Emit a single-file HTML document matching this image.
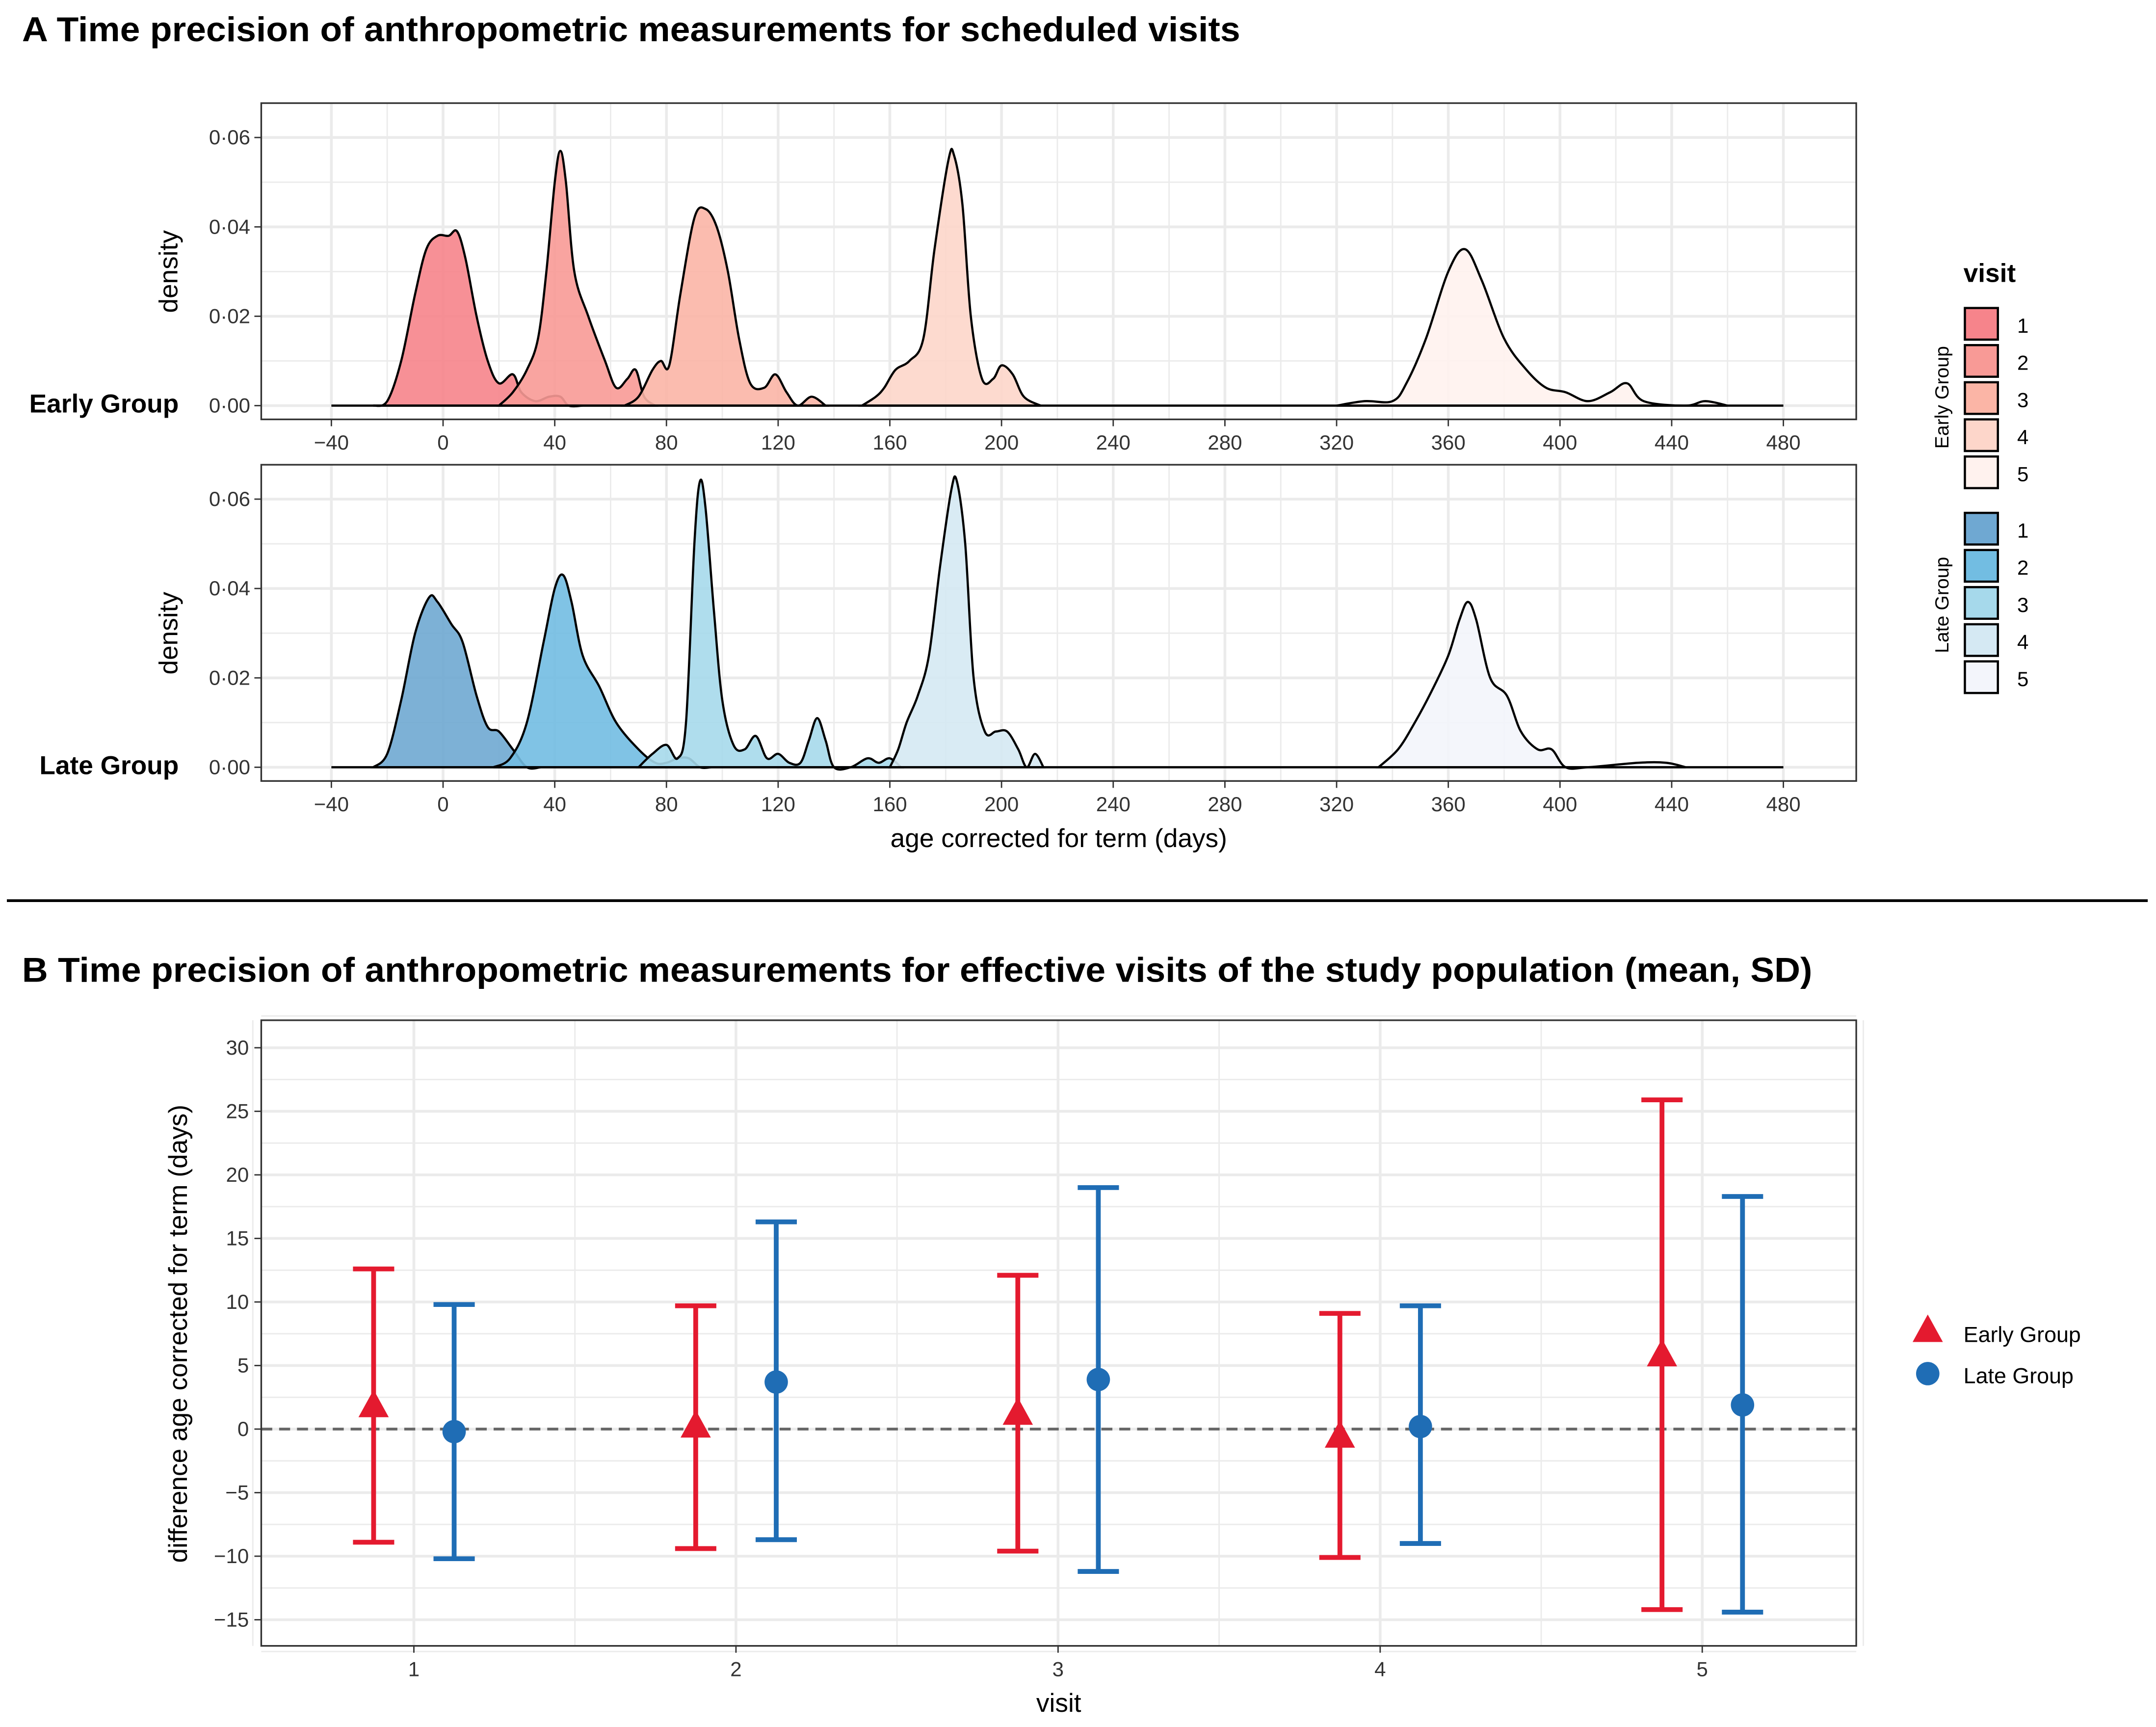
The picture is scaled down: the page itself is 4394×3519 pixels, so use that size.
<!DOCTYPE html>
<html><head><meta charset="utf-8"><style>
html,body{margin:0;padding:0;background:#fff}
svg{display:block}
text{font-family:"Liberation Sans",Arial,sans-serif}
</style></head><body>
<svg id="fig" width="4394" height="3519" viewBox="0 0 1568 1256" preserveAspectRatio="none" xmlns="http://www.w3.org/2000/svg">
<rect width="1568" height="1256" fill="#fff"/>
<g id="root"></g>
</svg>
<script>
// ---------- Panel A data ----------
const visitLabels = ["1","2","3","4","5"];
const xTicksA = [-40,0,40,80,120,160,200,240,280,320,360,400,440,480];
const yTicksA = [0,0.02,0.04,0.06];
const yTickLabelsA = ["0·00","0·02","0·04","0·06"];
const earlyV1 = [[-25,0],[-20,0.001],[-15,0.01],[-10,0.025],[-6,0.035],[-2,0.038],[2,0.038],[5,0.039],[8,0.033],[12,0.02],[16,0.01],[20,0.005],[25,0.007],[28,0.003],[33,0.001],[38,0.002],[42,0.002],[45,0],[50,0]];
const earlyV2 = [[20,0],[25,0.003],[30,0.008],[34,0.015],[37,0.03],[40,0.05],[42,0.057],[44,0.05],[47,0.03],[52,0.02],[58,0.01],[62,0.004],[66,0.006],[69,0.008],[72,0.002],[76,0]];
const earlyV3 = [[65,0],[70,0.002],[75,0.008],[78,0.01],[81,0.009],[85,0.025],[90,0.042],[94,0.044],[98,0.04],[102,0.03],[106,0.015],[110,0.005],[115,0.004],[119,0.007],[123,0.003],[127,0],[132,0.002],[137,0]];
const earlyV4 = [[150,0],[155,0.002],[158,0.004],[162,0.008],[167,0.01],[172,0.015],[176,0.035],[181,0.055],[183,0.056],[186,0.045],[189,0.02],[193,0.006],[197,0.006],[200,0.009],[204,0.007],[208,0.002],[214,0]];
const earlyV5 = [[320,0],[330,0.001],[340,0.001],[345,0.005],[352,0.015],[360,0.03],[366,0.035],[372,0.028],[380,0.015],[388,0.008],[395,0.004],[402,0.003],[410,0.001],[418,0.003],[424,0.005],[430,0.001],[445,0],[452,0.001],[460,0]];
const lateV1 = [[-25,0],[-20,0.003],[-15,0.015],[-10,0.03],[-5,0.038],[-2,0.037],[3,0.032],[7,0.028],[12,0.016],[16,0.009],[20,0.008],[25,0.004],[30,0],[35,0]];
const lateV2 = [[18,0],[24,0.002],[30,0.01],[36,0.028],[40,0.04],[43,0.043],[46,0.037],[50,0.025],[56,0.018],[62,0.01],[70,0.004],[76,0.001],[80,0.001],[84,0.002],[88,0.002],[92,0],[96,0]];
const lateV3 = [[70,0],[75,0.003],[80,0.005],[84,0.002],[87,0.01],[90,0.05],[92,0.064],[94,0.058],[97,0.035],[100,0.015],[104,0.005],[108,0.004],[112,0.007],[116,0.002],[120,0.003],[124,0.001],[128,0.001],[131,0.006],[134,0.011],[137,0.006],[140,0],[146,0],[152,0.002],[156,0.001],[160,0.002],[164,0]];
const lateV4 = [[160,0],[163,0.004],[166,0.01],[170,0.016],[174,0.025],[178,0.045],[182,0.062],[184,0.064],[187,0.05],[190,0.02],[194,0.008],[198,0.008],[202,0.008],[206,0.004],[209,0],[212,0.003],[215,0]];
const lateV5 = [[335,0],[342,0.004],[348,0.01],[354,0.017],[360,0.025],[364,0.033],[367,0.037],[370,0.033],[375,0.02],[381,0.016],[386,0.008],[392,0.004],[397,0.004],[402,0],[410,0],[428,0.001],[438,0.001],[445,0]];
// ---------- Panel B data ----------
const visitsB = [1,2,3,4,5];
const earlyMean = [1.8,0.2,1.2,-0.6,5.8];
const earlyLow = [-8.9,-9.4,-9.6,-10.1,-14.2];
const earlyHigh = [12.6,9.7,12.1,9.1,25.9];
const lateMean = [-0.2,3.7,3.9,0.2,1.9];
const lateLow = [-10.2,-8.7,-11.2,-9.0,-14.4];
const lateHigh = [9.8,16.3,19.0,9.7,18.3];
const yTicksB = [-15,-10,-5,0,5,10,15,20,25,30];

const NS="http://www.w3.org/2000/svg";
const root=document.getElementById('root');
function el(tag,attrs,parent,txt){const e=document.createElementNS(NS,tag);for(const k in attrs)e.setAttribute(k,attrs[k]);if(txt!==undefined)e.textContent=txt;(parent||root).appendChild(e);return e;}

const earlyFills=["#f6848b","#f89a96","#fbb5a6","#fdd6ca","#fff2ee"];
const lateFills=["#6fa8d2","#72bde2","#a6d9eb","#d5e9f3","#f3f5fb"];
const earlySeries=[earlyV1,earlyV2,earlyV3,earlyV4,earlyV5];
const lateSeries=[lateV1,lateV2,lateV3,lateV4,lateV5];

function smoothPath(pts){
  let d="M"+pts[0][0]+","+pts[0][1];
  for(let i=0;i<pts.length-1;i++){
    const p0=pts[Math.max(0,i-1)],p1=pts[i],p2=pts[i+1],p3=pts[Math.min(pts.length-1,i+2)];
    const c1x=p1[0]+(p2[0]-p0[0])/6,c1y=p1[1]+(p2[1]-p0[1])/6;
    const c2x=p2[0]-(p3[0]-p1[0])/6,c2y=p2[1]-(p3[1]-p1[1])/6;
    d+=` C${c1x},${c1y} ${c2x},${c2y} ${p2[0]},${p2[1]}`;
  }
  return d;
}

// titles
el('text',{x:16,y:30,'font-size':25,'font-weight':'bold',textLength:886,lengthAdjust:'spacingAndGlyphs',},root,'A Time precision of anthropometric measurements for scheduled visits');
el('text',{x:16,y:714,'font-size':25,'font-weight':'bold',textLength:1302,lengthAdjust:'spacingAndGlyphs',},root,'B Time precision of anthropometric measurements for effective visits of the study population (mean, SD)');
el('line',{x1:5,y1:655,x2:1562,y2:655,stroke:'#000','stroke-width':2,});

const xA=v=>241+(v+40)*(1297-241)/520;
function densityPanel(top,bottom,zeroY,series,fills,label,name){
  const yA=v=>zeroY-v*(195/0.06);
  const g=el('g',{});
  el('rect',{x:190,y:top,width:1160,height:bottom-top,fill:'#fff'},g);
  for(let v=-40;v<=480;v+=20){el('line',{x1:xA(v),x2:xA(v),y1:top,y2:bottom,stroke:'#ebebeb','stroke-width':v%40===0?2:1},g);}
  for(let v=0;v<=0.065;v+=0.01){const y=yA(v);el('line',{x1:190,x2:1350,y1:y,y2:y,stroke:'#ebebeb','stroke-width':Math.round(v*100)%2===0?2:1},g);}
  series.forEach((s,i)=>{
    const pts=s.map(p=>[xA(p[0]),yA(p[1])]);
    const d=smoothPath(pts)+` L${pts[pts.length-1][0]},${zeroY} L${pts[0][0]},${zeroY} Z`;
    const p=el('path',{d:d,fill:fills[i],'fill-opacity':0.9,stroke:'#000','stroke-width':1.6},g);
    
    
  });
  el('line',{x1:xA(-40),x2:xA(480),y1:zeroY,y2:zeroY,stroke:'#000','stroke-width':1.6},g);
  el('rect',{x:190,y:top,width:1160,height:bottom-top,fill:'none',stroke:'#333','stroke-width':1.2},g);
  xTicksA.forEach(v=>{el('line',{x1:xA(v),x2:xA(v),y1:bottom,y2:bottom+5,stroke:'#333'},g);el('text',{x:xA(v),y:bottom+22,'font-size':15,'text-anchor':'middle',fill:'#333'},g,v<0?'\u2212'+(-v):String(v));});
  yTicksA.forEach((v,i)=>{el('line',{x1:185,x2:190,y1:yA(v),y2:yA(v),stroke:'#333'},g);el('text',{x:182,y:yA(v)+5,'font-size':15,'text-anchor':'end',fill:'#333'},g,yTickLabelsA[i]);});
  el('text',{x:130,y:zeroY+5,'font-size':19,'font-weight':'bold','text-anchor':'end'},g,label);
  el('text',{x:0,y:0,'font-size':19,'text-anchor':'middle',transform:`translate(129,${yA(0.03)}) rotate(-90)`},g,'density');
}
densityPanel(75,305,295,earlySeries,earlyFills,'Early Group','early-density-panel');
densityPanel(338,568,558,lateSeries,lateFills,'Late Group','late-density-panel');
el('text',{x:770,y:616,'font-size':19,'text-anchor':'middle',},root,'age corrected for term (days)');

// legend A
const lg=el('g',{});
el('text',{x:1428,y:205,'font-size':19,'font-weight':'bold'},lg,'visit');
el('text',{x:0,y:0,'font-size':14,'text-anchor':'middle',transform:'translate(1417,289) rotate(-90)'},lg,'Early Group');
el('text',{x:0,y:0,'font-size':14,'text-anchor':'middle',transform:'translate(1417,440) rotate(-90)'},lg,'Late Group');
for(let i=0;i<5;i++){
  el('rect',{x:1429,y:224+i*27,width:24,height:23,fill:earlyFills[i],stroke:'#000','stroke-width':1.6},lg);
  el('text',{x:1467,y:242+i*27,'font-size':15},lg,visitLabels[i]);
  el('rect',{x:1429,y:373+i*27,width:24,height:23,fill:lateFills[i],stroke:'#000','stroke-width':1.6},lg);
  el('text',{x:1467,y:391+i*27,'font-size':15},lg,visitLabels[i]);
}

// ---------- Panel B ----------
const xB=v=>301+(v-1)*234.25;
const yB=v=>762+(30-v)*(416/45);
const gb=el('g',{});
for(let v=0.5;v<=5.5;v+=0.5){el('line',{x1:xB(v),x2:xB(v),y1:742,y2:1197,stroke:'#ebebeb','stroke-width':Number.isInteger(v)?2:1},gb);}
for(let v=-17.5;v<=32.5;v+=2.5){el('line',{x1:190,x2:1350,y1:yB(v),y2:yB(v),stroke:'#ebebeb','stroke-width':v%5===0?2:1},gb);}
el('line',{x1:190,x2:1350,y1:yB(0),y2:yB(0),stroke:'#666','stroke-width':2,'stroke-dasharray':'8,5',},gb);
function errSeries(mean,low,high,off,color,shape,name){
  visitsB.forEach((v,i)=>{
    const x=xB(v+off);
    const g=el('g',{},gb);
    
    
    el('line',{x1:x,x2:x,y1:yB(low[i]),y2:yB(high[i]),stroke:color,'stroke-width':3.5},g);
    el('line',{x1:x-15,x2:x+15,y1:yB(low[i]),y2:yB(low[i]),stroke:color,'stroke-width':3.5},g);
    el('line',{x1:x-15,x2:x+15,y1:yB(high[i]),y2:yB(high[i]),stroke:color,'stroke-width':3.5},g);
    const y=yB(mean[i]);
    if(shape==='tri')el('polygon',{points:`${x},${y-12} ${x-11},${y+8} ${x+11},${y+8}`,fill:color},g);
    else el('circle',{cx:x,cy:y,r:8.5,fill:color},g);
  });
}
errSeries(earlyMean,earlyLow,earlyHigh,-0.125,'#e41a2f','tri','early-errorbar');
errSeries(lateMean,lateLow,lateHigh,0.125,'#1f6db5','circ','late-errorbar');
el('rect',{x:190,y:742,width:1160,height:455,fill:'none',stroke:'#333','stroke-width':1.2},gb);
yTicksB.forEach(v=>{el('line',{x1:185,x2:190,y1:yB(v),y2:yB(v),stroke:'#333'},gb);el('text',{x:181,y:yB(v)+5,'font-size':15,'text-anchor':'end',fill:'#333'},gb,v<0?'\u2212'+(-v):String(v));});
visitsB.forEach(v=>{el('line',{x1:xB(v),x2:xB(v),y1:1197,y2:1202,stroke:'#333'},gb);el('text',{x:xB(v),y:1219,'font-size':15,'text-anchor':'middle',fill:'#333'},gb,String(v));});
el('text',{x:770,y:1245,'font-size':19,'text-anchor':'middle',},root,'visit');
el('text',{x:0,y:0,'font-size':19,'text-anchor':'middle',transform:`translate(136,${yB(7.5)}) rotate(-90)`,},root,'difference age corrected for term (days)');
const lb=el('g',{});
el('polygon',{points:'1402,956 1391,976 1413,976',fill:'#e41a2f'},lb);
el('text',{x:1428,y:976,'font-size':16},lb,'Early Group');
el('circle',{cx:1402,cy:999,r:8.5,fill:'#1f6db5'},lb);
el('text',{x:1428,y:1006,'font-size':16},lb,'Late Group');
</script>
</body></html>
